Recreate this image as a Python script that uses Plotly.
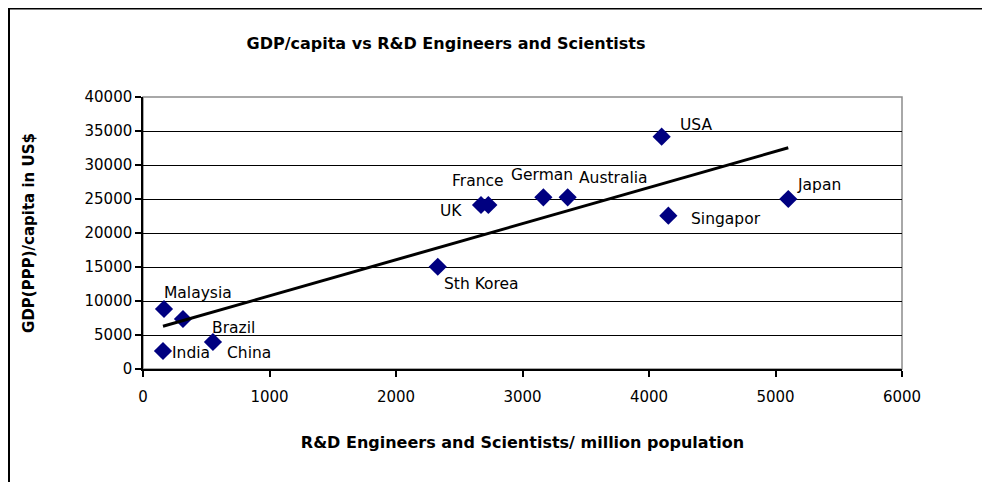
import numpy as np
import plotly.graph_objects as go

# ---- data ----
countries = ["India", "Malaysia", "Brazil", "China", "Sth Korea", "UK", "France",
             "German", "Australia", "USA", "Singapor", "Japan"]
rd_per_million = [158, 166, 316, 553, 2330, 2672, 2730, 3165, 3357, 4100, 4153, 5101]
gdp_per_capita = [2650, 8820, 7350, 3970, 15040, 24120, 24120, 25250, 25250, 34160, 22550, 25000]
x_ticks = [0, 1000, 2000, 3000, 4000, 5000, 6000]
y_ticks = [0, 5000, 10000, 15000, 20000, 25000, 30000, 35000, 40000]

# label offsets (pixels) of each country's data label relative to its marker
label_dx = [28, 34, 51, 36, 44, -30, -10, -1, 46, 34, 58, 31]
label_dy = [-2, 16, -9, -11, -17, -6, 24, 22, 19, 12, -3, 14]

# page has an 8px body margin; figure is sized to fill the rest of the window
W, H = 982, 474
L, T = 135, 89
R = W - 894
B = H - 361

# linear trendline through data
xs = np.array(rd_per_million, dtype=float)
ys = np.array(gdp_per_capita, dtype=float)
slope, intercept = np.polyfit(xs, ys, 1)
tx = np.array([xs.min(), xs.max()])
ty = slope * tx + intercept

fig = go.Figure()
fig.add_trace(go.Scatter(
    x=rd_per_million, y=gdp_per_capita, mode="markers",
    marker=dict(symbol="diamond", size=14, color="#000080", line=dict(width=0)),
    showlegend=False, hoverinfo="skip"))
fig.add_trace(go.Scatter(
    x=tx, y=ty, mode="lines", line=dict(color="black", width=3),
    showlegend=False, hoverinfo="skip"))

lab_font = dict(family="DejaVu Sans", size=15.5, color="black")
for c, xv, yv, dx, dy in zip(countries, rd_per_million, gdp_per_capita, label_dx, label_dy):
    fig.add_annotation(x=xv, y=yv, text=c, showarrow=False, xanchor="center", yanchor="middle",
                       xshift=dx, yshift=dy, font=lab_font)

pw, ph = W - L - R, H - T - B
# outer chart frame (only left/top edges visible in the picture)
fig.add_shape(type="rect", xref="paper", yref="paper",
              x0=(1 - L) / pw, x1=(W + 20 - L) / pw,
              y0=-(H + 20 - T - ph) / ph, y1=(H - B - 0.5) / ph,
              line=dict(color="black", width=2), layer="below")
# plot-area border
fig.add_shape(type="rect", xref="paper", yref="paper", x0=0, x1=1, y0=0, y1=1,
              line=dict(color="#8c8c8c", width=1.5), layer="below")

tick_font = dict(family="DejaVu Sans", size=15, color="black")
fig.update_layout(
    width=W, height=H,
    margin=dict(l=L, r=R, t=T, b=B, autoexpand=False),
    paper_bgcolor="white", plot_bgcolor="white",
    title=dict(text="<b>GDP/capita vs R&D Engineers and Scientists</b>",
               x=438 / W, xanchor="center", y=1 - 35 / H, yanchor="middle",
               font=dict(family="DejaVu Sans", size=16, color="black")),
    xaxis=dict(range=[0, 6000], tickvals=x_ticks, tickformat="d", showgrid=False, zeroline=False,
               showline=True, linecolor="black", linewidth=1.5,
               ticks="outside", ticklen=6, tickcolor="black", tickwidth=1.5,
               ticklabelstandoff=7,
               tickfont=tick_font, automargin=False,
               title=dict(text="<b>R&D Engineers and Scientists/ million population</b>",
                          font=dict(family="DejaVu Sans", size=16, color="black"), standoff=32)),
    yaxis=dict(range=[0, 40000], tickvals=y_ticks, tickformat="d", showgrid=True,
               gridcolor="black", gridwidth=1,
               zeroline=False, showline=True, linecolor="black", linewidth=1.5,
               ticks="outside", ticklen=6, tickcolor="black", tickwidth=1.5,
               tickfont=tick_font, automargin=False,
               title=dict(text="<b>GDP(PPP)/capita in US$</b>",
                          font=dict(family="DejaVu Sans", size=15, color="black"), standoff=46)),
)

fig.write_html("out.html")
